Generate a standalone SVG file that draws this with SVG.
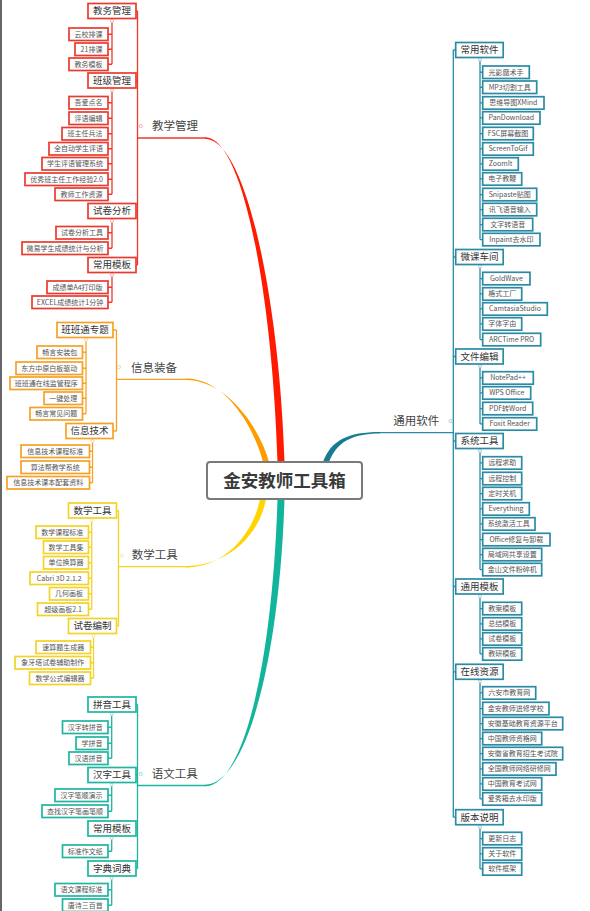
<svg xmlns="http://www.w3.org/2000/svg" width="590" height="911" viewBox="0 0 590 911">
<style>
text{font-family:"Noto Sans CJK SC","Noto Sans",sans-serif}
.lf{font-size:7px;fill:#555;text-anchor:middle}
.st{font-size:9.5px;fill:#333;text-anchor:middle}
.mt{font-size:11.5px;fill:#444}
.rt{font-size:17.5px;font-weight:bold;fill:#3a3a3a;text-anchor:middle}
rect{fill:#fff;stroke-width:1.7}
.R rect{stroke:#ea3a2e}.O rect{stroke:#f6a126}.Y rect{stroke:#f3d325}.T rect{stroke:#1fb5a1}.B rect{stroke:#2b8ba4}
.ln{fill:none;stroke-width:1.3}
.dot{fill:#fff;stroke-width:0.9}
</style>
<rect x="0" y="0" width="590" height="911" style="fill:#fff;stroke:none"/>
<line x1="1" y1="0" x2="1" y2="911" stroke="#333" stroke-width="1.5"/>
<g id="connectors">
<path d="M277.5,462C272.5,300 244,137.2 205,137.2L205,138.8C246,138.8 279.5,300 284.5,462Z" fill="#ff1a00"/>
<path d="M263,462C253,424 224,378.5 186,378.5L186,380.1C226,380.1 259,426 269,462Z" fill="#ff9d00"/>
<path d="M260,499C253,535 224,567.5 186,567.5L186,565.9C226,565.9 259,537 266,499Z" fill="#ffd400"/>
<path d="M277.5,499C272.5,661 244,786.3 205,786.3L205,784.7C246,784.7 279.5,661 284.5,499Z" fill="#12b59c"/>
<path d="M323,462C331,440 348,431.9 380,431.9L380,433.5C352,433.5 337,442 329,462Z" fill="#177c90"/>
<path class="ln" stroke="#ea3a2e" d="M137.5,11V265M136,11H137.5M136,80.5H137.5M136,211H137.5M136,265H137.5M137.5,138H206
M112,21V64.25M108,34.25H112M108,49.25H112M108,64.25H112
M112,90.5V194.25M108,102.75H112M108,118.25H112M108,133.75H112M108,148.75H112M108,163.75H112M108,179.25H112M108,194.25H112
M112,221V248.25M108,232.75H112M108,248.25H112
M112,275V302.25M108,287.25H112M108,302.25H112"/>
<path class="ln" stroke="#f6a126" d="M116.5,330V431M113,330H116.5M113,431H116.5M116.5,379.3H187
M86,340V413.75M82.5,352.25H86M82.5,368.25H86M82.5,383.25H86M82.5,398.25H86M82.5,413.75H86
M92.5,441V482.75M89.5,451.25H92.5M89.5,467.25H92.5M89.5,482.75H92.5"/>
<path class="ln" stroke="#f3d325" d="M118.5,510.5V626M116.5,510.5H118.5M116.5,626H118.5M118.5,566.7H187
M91.7,520V609.25M88.5,532.25H91.7M88.5,547.25H91.7M88.5,562.75H91.7M88.5,578.25H91.7M88.5,593.75H91.7M88.5,609.25H91.7
M93.5,636V678.25M90.5,647.25H93.5M90.5,662.75H93.5M90.5,678.25H93.5"/>
<path class="ln" stroke="#1fb5a1" d="M137.5,704.5V868.5M136,704.5H137.5M136,775H137.5M136,828.5H137.5M136,868.5H137.5M137.5,785.5H206
M111.7,714V758.25M108,727.25H111.7M108,743.25H111.7M108,758.25H111.7
M111.7,784.5V811.25M108,795.25H111.7M108,811.25H111.7
M111.7,838V851.25M108,851.25H111.7
M111.7,878V905.25M108,889.75H111.7M108,905.25H111.7"/>
<path class="ln" stroke="#2b8ba4" d="M453.3,50V817.2M380,432.7H453.3
M453.3,50H455.7M453.3,257H455.7M453.3,356.5H455.7M453.3,441H455.7M453.3,586.5H455.7M453.3,671.8H455.7M453.3,817.2H455.7
M480,59.5V239.55M480,72.25h2.7M480,87.25h2.7M480,102.95h2.7M480,117.95h2.7M480,133.55h2.7M480,148.95h2.7M480,163.95h2.7M480,178.95h2.7M480,194.55h2.7M480,209.55h2.7M480,224.55h2.7M480,239.55h2.7
M480,266.5V339.55M480,278.55h2.7M480,293.95h2.7M480,308.95h2.7M480,323.95h2.7M480,339.55h2.7
M480,366V423.95M480,377.95h2.7M480,392.95h2.7M480,408.55h2.7M480,423.95h2.7
M480,451V569.55M480,462.95h2.7M480,478.55h2.7M480,493.55h2.7M480,508.95h2.7M480,523.95h2.7M480,539.55h2.7M480,554.55h2.7M480,569.55h2.7
M480,596.5V653.95M480,608.55h2.7M480,623.95h2.7M480,638.95h2.7M480,653.95h2.7
M480,681.5V798.95M480,692.95h2.7M480,708.55h2.7M480,723.55h2.7M480,738.55h2.7M480,753.55h2.7M480,768.95h2.7M480,783.95h2.7M480,798.95h2.7
M480,827V868.95M480,838.55h2.7M480,853.95h2.7M480,868.95h2.7"/>
<g stroke="#f2a9a3"><circle class="dot" cx="112" cy="21" r="1.5"/><circle class="dot" cx="112" cy="90.5" r="1.5"/><circle class="dot" cx="112" cy="221" r="1.5"/><circle class="dot" cx="112" cy="275" r="1.5"/><circle class="dot" cx="140.7" cy="126" r="1.6"/></g>
<g stroke="#f8cf96"><circle class="dot" cx="86" cy="340" r="1.5"/><circle class="dot" cx="92.5" cy="441" r="1.5"/><circle class="dot" cx="119" cy="367.3" r="1.6"/></g>
<g stroke="#f6e690"><circle class="dot" cx="91.7" cy="520" r="1.5"/><circle class="dot" cx="93.5" cy="636" r="1.5"/><circle class="dot" cx="121.7" cy="555.7" r="1.6"/></g>
<g stroke="#98dcd2"><circle class="dot" cx="111.7" cy="714" r="1.5"/><circle class="dot" cx="111.7" cy="784.5" r="1.5"/><circle class="dot" cx="111.7" cy="838" r="1.5"/><circle class="dot" cx="111.7" cy="878" r="1.5"/><circle class="dot" cx="140.7" cy="774" r="1.6"/></g>
<g stroke="#9cc8d4"><circle class="dot" cx="480" cy="59.5" r="1.5"/><circle class="dot" cx="480" cy="266.5" r="1.5"/><circle class="dot" cx="480" cy="366" r="1.5"/><circle class="dot" cx="480" cy="451" r="1.5"/><circle class="dot" cx="480" cy="596.5" r="1.5"/><circle class="dot" cx="480" cy="681.5" r="1.5"/><circle class="dot" cx="480" cy="827" r="1.5"/><circle class="dot" cx="450.7" cy="421" r="1.6"/></g>
</g>
<g id="root"><rect x="207" y="462" width="155" height="37" rx="3" style="stroke:#7a7a7a;stroke-width:2"/><text class="rt" x="284.5" y="487">金安教师工具箱</text></g>
<g id="m-jxgl"><text class="mt" x="152" y="130">教学管理</text></g>
<g id="m-xxzb"><text class="mt" x="131" y="371.5">信息装备</text></g>
<g id="m-sxgj"><text class="mt" x="131.7" y="559">数学工具</text></g>
<g id="m-ywgj"><text class="mt" x="151.7" y="778">语文工具</text></g>
<g id="m-tyrj"><text class="mt" x="393.3" y="425">通用软件</text></g>
<g class="R">
<g id="s-jwgl"><rect x="88" y="3.5" width="48" height="15"/><text class="st" x="112" y="14.3">教务管理</text></g>
<g id="l-r1"><rect x="69" y="28" width="39" height="12.5"/><text class="lf" x="88.5" y="36.75">云校排课</text></g>
<g id="l-r2"><rect x="75" y="43" width="33" height="12.5"/><text class="lf" x="91.5" y="51.75">21排课</text></g>
<g id="l-r3"><rect x="69" y="58" width="39" height="12.5"/><text class="lf" x="88.5" y="66.75">教务模板</text></g>
<g id="s-bjgl"><rect x="88" y="73" width="48" height="15"/><text class="st" x="112" y="83.8">班级管理</text></g>
<g id="l-r4"><rect x="69" y="96.5" width="39" height="12.5"/><text class="lf" x="88.5" y="105.25">吾爱点名</text></g>
<g id="l-r5"><rect x="69" y="112" width="39" height="12.5"/><text class="lf" x="88.5" y="120.75">评语编辑</text></g>
<g id="l-r6"><rect x="62" y="127.5" width="46" height="12.5"/><text class="lf" x="85" y="136.25">班主任兵法</text></g>
<g id="l-r7"><rect x="49" y="142.5" width="59" height="12.5"/><text class="lf" x="78.5" y="151.25">全自动学生评语</text></g>
<g id="l-r8"><rect x="42" y="157.5" width="66" height="12.5"/><text class="lf" x="75" y="166.25">学生评语管理系统</text></g>
<g id="l-r9"><rect x="25" y="173" width="83" height="12.5"/><text class="lf" x="66.5" y="181.75">优秀班主任工作经验2.0</text></g>
<g id="l-r10"><rect x="55" y="188" width="53" height="12.5"/><text class="lf" x="81.5" y="196.75">教师工作资源</text></g>
<g id="s-sjfx"><rect x="88" y="203.5" width="48" height="15"/><text class="st" x="112" y="214.3">试卷分析</text></g>
<g id="l-r11"><rect x="56" y="226.5" width="52" height="12.5"/><text class="lf" x="82" y="235.25">试卷分析工具</text></g>
<g id="l-r12"><rect x="22" y="242" width="86" height="12.5"/><text class="lf" x="65" y="250.75">微易学生成绩统计与分析</text></g>
<g id="s-cymb1"><rect x="88" y="257.5" width="48" height="15"/><text class="st" x="112" y="268.3">常用模板</text></g>
<g id="l-r13"><rect x="47" y="281" width="61" height="12.5"/><text class="lf" x="77.5" y="289.75">成绩单A4打印版</text></g>
<g id="l-r14"><rect x="32" y="296" width="76" height="12.5"/><text class="lf" x="70" y="304.75">EXCEL成绩统计1分钟</text></g>
</g>
<g class="O">
<g id="s-bbt"><rect x="57" y="322.5" width="56" height="15"/><text class="st" x="85" y="333.3">班班通专题</text></g>
<g id="l-o1"><rect x="37" y="346" width="45.5" height="12.5"/><text class="lf" x="59.75" y="354.75">畅言安装包</text></g>
<g id="l-o2"><rect x="16" y="362" width="66.5" height="12.5"/><text class="lf" x="49.25" y="370.75">东方中原白板驱动</text></g>
<g id="l-o3"><rect x="10" y="377" width="72.5" height="12.5"/><text class="lf" x="46.25" y="385.75">班班通在线监管程序</text></g>
<g id="l-o4"><rect x="44" y="392" width="38.5" height="12.5"/><text class="lf" x="63.25" y="400.75">一键处理</text></g>
<g id="l-o5"><rect x="30" y="407.5" width="52.5" height="12.5"/><text class="lf" x="56.25" y="416.25">畅言常见问题</text></g>
<g id="s-xxjs"><rect x="66" y="423.5" width="47" height="15"/><text class="st" x="89.5" y="434.3">信息技术</text></g>
<g id="l-o6"><rect x="21" y="445" width="68.5" height="12.5"/><text class="lf" x="55.25" y="453.75">信息技术课程标准</text></g>
<g id="l-o7"><rect x="21" y="461" width="68.5" height="12.5"/><text class="lf" x="55.25" y="469.75">算法帮教学系统</text></g>
<g id="l-o8"><rect x="7" y="476.5" width="82.5" height="12.5"/><text class="lf" x="48.25" y="485.25">信息技术课本配套资料</text></g>
</g>
<g class="Y">
<g id="s-sxgj"><rect x="68.5" y="503" width="48" height="15"/><text class="st" x="92.5" y="513.8">数学工具</text></g>
<g id="l-y1"><rect x="36" y="526" width="52.5" height="12.5"/><text class="lf" x="62.25" y="534.75">数学课程标准</text></g>
<g id="l-y2"><rect x="43.5" y="541" width="45" height="12.5"/><text class="lf" x="66" y="549.75">数学工具集</text></g>
<g id="l-y3"><rect x="43.5" y="556.5" width="45" height="12.5"/><text class="lf" x="66" y="565.25">单位换算器</text></g>
<g id="l-y4"><rect x="30" y="572" width="58.5" height="12.5"/><text class="lf" x="59.25" y="580.75">Cabri 3D 2.1.2</text></g>
<g id="l-y5"><rect x="49.5" y="587.5" width="39" height="12.5"/><text class="lf" x="69" y="596.25">几何画板</text></g>
<g id="l-y6"><rect x="37.5" y="603" width="51" height="12.5"/><text class="lf" x="63" y="611.75">超级画板2.1</text></g>
<g id="s-sjbz"><rect x="68.5" y="618.5" width="48" height="15"/><text class="st" x="92.5" y="629.3">试卷编制</text></g>
<g id="l-y7"><rect x="36" y="641" width="54.5" height="12.5"/><text class="lf" x="63.25" y="649.75">速算题生成器</text></g>
<g id="l-y8"><rect x="15" y="656.5" width="75.5" height="12.5"/><text class="lf" x="52.75" y="665.25">象牙塔试卷辅助制作</text></g>
<g id="l-y9"><rect x="29.5" y="672" width="61" height="12.5"/><text class="lf" x="60" y="680.75">数学公式编辑器</text></g>
</g>
<g class="T">
<g id="s-pygj"><rect x="88" y="697" width="48" height="15"/><text class="st" x="112" y="707.8">拼音工具</text></g>
<g id="l-t1"><rect x="62.5" y="721" width="45.5" height="12.5"/><text class="lf" x="85.25" y="729.75">汉字转拼音</text></g>
<g id="l-t2"><rect x="76" y="737" width="32" height="12.5"/><text class="lf" x="92" y="745.75">学拼音</text></g>
<g id="l-t3"><rect x="69" y="752" width="39" height="12.5"/><text class="lf" x="88.5" y="760.75">汉语拼音</text></g>
<g id="s-hzgj"><rect x="88" y="767.5" width="48" height="15"/><text class="st" x="112" y="778.3">汉字工具</text></g>
<g id="l-t4"><rect x="55" y="789" width="53" height="12.5"/><text class="lf" x="81.5" y="797.75">汉字笔顺演示</text></g>
<g id="l-t5"><rect x="42" y="805" width="66" height="12.5"/><text class="lf" x="75" y="813.75">查找汉字笔画笔顺</text></g>
<g id="s-cymb2"><rect x="88" y="821" width="48" height="15"/><text class="st" x="112" y="831.8">常用模板</text></g>
<g id="l-t6"><rect x="62.5" y="845" width="45.5" height="12.5"/><text class="lf" x="85.25" y="853.75">标准作文纸</text></g>
<g id="s-zdcd"><rect x="88" y="861" width="48" height="15"/><text class="st" x="112" y="871.8">字典词典</text></g>
<g id="l-t7"><rect x="55" y="883.5" width="53" height="12.5"/><text class="lf" x="81.5" y="892.25">语文课程标准</text></g>
<g id="l-t8"><rect x="62.5" y="899" width="45.5" height="12.5"/><text class="lf" x="85.25" y="907.75">唐诗三百首</text></g>
</g>
<g class="B">
<g id="s-cyrj"><rect x="455.7" y="42.5" width="47.5" height="15"/><text class="st" x="479.45" y="53.3">常用软件</text></g>
<g id="l-b1"><rect x="482.7" y="66" width="46.6" height="12.5"/><text class="lf" x="506" y="74.75">光影魔术手</text></g>
<g id="l-b2"><rect x="482.7" y="81" width="54" height="12.5"/><text class="lf" x="509.7" y="89.75">MP3切割工具</text></g>
<g id="l-b3"><rect x="482.7" y="96.7" width="61.3" height="12.5"/><text class="lf" x="513.35" y="105.45">思维导图XMind</text></g>
<g id="l-b4"><rect x="482.7" y="111.7" width="57.3" height="12.5"/><text class="lf" x="511.35" y="120.45">PanDownload</text></g>
<g id="l-b5"><rect x="482.7" y="127.3" width="50.6" height="12.5"/><text class="lf" x="508" y="136.05">FSC屏幕截图</text></g>
<g id="l-b6"><rect x="482.7" y="142.7" width="50.6" height="12.5"/><text class="lf" x="508" y="151.45">ScreenToGif</text></g>
<g id="l-b7"><rect x="482.7" y="157.7" width="35.6" height="12.5"/><text class="lf" x="500.5" y="166.45">ZoomIt</text></g>
<g id="l-b8"><rect x="482.7" y="172.7" width="39" height="12.5"/><text class="lf" x="502.2" y="181.45">电子教鞭</text></g>
<g id="l-b9"><rect x="482.7" y="188.3" width="54" height="12.5"/><text class="lf" x="509.7" y="197.05">Snipaste贴图</text></g>
<g id="l-b10"><rect x="482.7" y="203.3" width="54" height="12.5"/><text class="lf" x="509.7" y="212.05">讯飞语音输入</text></g>
<g id="l-b11"><rect x="482.7" y="218.3" width="50" height="12.5"/><text class="lf" x="507.7" y="227.05">文字转语音</text></g>
<g id="l-b12"><rect x="482.7" y="233.3" width="57.3" height="12.5"/><text class="lf" x="511.35" y="242.05">Inpaint去水印</text></g>
<g id="s-wkcj"><rect x="455.7" y="249.5" width="47.5" height="15"/><text class="st" x="479.45" y="260.3">微课车间</text></g>
<g id="l-b13"><rect x="482.7" y="272.3" width="47.3" height="12.5"/><text class="lf" x="506.35" y="281.05">GoldWave</text></g>
<g id="l-b14"><rect x="482.7" y="287.7" width="39" height="12.5"/><text class="lf" x="502.2" y="296.45">格式工厂</text></g>
<g id="l-b15"><rect x="482.7" y="302.7" width="64.6" height="12.5"/><text class="lf" x="515" y="311.45">CamtasiaStudio</text></g>
<g id="l-b16"><rect x="482.7" y="317.7" width="39" height="12.5"/><text class="lf" x="502.2" y="326.45">字体字由</text></g>
<g id="l-b17"><rect x="482.7" y="333.3" width="58" height="12.5"/><text class="lf" x="511.7" y="342.05">ARCTime PRO</text></g>
<g id="s-wjbj"><rect x="455.7" y="349" width="47.5" height="15"/><text class="st" x="479.45" y="359.8">文件编辑</text></g>
<g id="l-b18"><rect x="482.7" y="371.7" width="50.6" height="12.5"/><text class="lf" x="508" y="380.45">NotePad++</text></g>
<g id="l-b19"><rect x="482.7" y="386.7" width="48" height="12.5"/><text class="lf" x="506.7" y="395.45">WPS Office</text></g>
<g id="l-b20"><rect x="482.7" y="402.3" width="50" height="12.5"/><text class="lf" x="507.7" y="411.05">PDF转Word</text></g>
<g id="l-b21"><rect x="482.7" y="417.7" width="54" height="12.5"/><text class="lf" x="509.7" y="426.45">Foxit Reader</text></g>
<g id="s-xtgj"><rect x="455.7" y="433.5" width="47.5" height="15"/><text class="st" x="479.45" y="444.3">系统工具</text></g>
<g id="l-b22"><rect x="482.7" y="456.7" width="39" height="12.5"/><text class="lf" x="502.2" y="465.45">远程求助</text></g>
<g id="l-b23"><rect x="482.7" y="472.3" width="39" height="12.5"/><text class="lf" x="502.2" y="481.05">远程控制</text></g>
<g id="l-b24"><rect x="482.7" y="487.3" width="39" height="12.5"/><text class="lf" x="502.2" y="496.05">定时关机</text></g>
<g id="l-b25"><rect x="482.7" y="502.7" width="46.6" height="12.5"/><text class="lf" x="506" y="511.45">Everything</text></g>
<g id="l-b26"><rect x="482.7" y="517.7" width="52.3" height="12.5"/><text class="lf" x="508.85" y="526.45">系统激活工具</text></g>
<g id="l-b27"><rect x="482.7" y="533.3" width="67.3" height="12.5"/><text class="lf" x="516.35" y="542.05">Office修复与卸载</text></g>
<g id="l-b28"><rect x="482.7" y="548.3" width="59" height="12.5"/><text class="lf" x="512.2" y="557.05">局域网共享设置</text></g>
<g id="l-b29"><rect x="482.7" y="563.3" width="59" height="12.5"/><text class="lf" x="512.2" y="572.05">金山文件粉碎机</text></g>
<g id="s-tymb"><rect x="455.7" y="579" width="47.5" height="15"/><text class="st" x="479.45" y="589.8">通用模板</text></g>
<g id="l-b30"><rect x="482.7" y="602.3" width="39" height="12.5"/><text class="lf" x="502.2" y="611.05">教案模板</text></g>
<g id="l-b31"><rect x="482.7" y="617.7" width="39" height="12.5"/><text class="lf" x="502.2" y="626.45">总结模板</text></g>
<g id="l-b32"><rect x="482.7" y="632.7" width="39" height="12.5"/><text class="lf" x="502.2" y="641.45">试卷模板</text></g>
<g id="l-b33"><rect x="482.7" y="647.7" width="39" height="12.5"/><text class="lf" x="502.2" y="656.45">教研模板</text></g>
<g id="s-zxzy"><rect x="455.7" y="664.3" width="47.5" height="15"/><text class="st" x="479.45" y="675.1">在线资源</text></g>
<g id="l-b34"><rect x="482.7" y="686.7" width="53" height="12.5"/><text class="lf" x="509.2" y="695.45">六安市教育网</text></g>
<g id="l-b35"><rect x="482.7" y="702.3" width="66.3" height="12.5"/><text class="lf" x="515.85" y="711.05">金安教师进修学校</text></g>
<g id="l-b36"><rect x="482.7" y="717.3" width="80" height="12.5"/><text class="lf" x="522.7" y="726.05">安徽基础教育资源平台</text></g>
<g id="l-b37"><rect x="482.7" y="732.3" width="59" height="12.5"/><text class="lf" x="512.2" y="741.05">中国教师资格网</text></g>
<g id="l-b38"><rect x="482.7" y="747.3" width="80" height="12.5"/><text class="lf" x="522.7" y="756.05">安徽省教育招生考试院</text></g>
<g id="l-b39"><rect x="482.7" y="762.7" width="73.3" height="12.5"/><text class="lf" x="519.35" y="771.45">全国教师网络研修网</text></g>
<g id="l-b40"><rect x="482.7" y="777.7" width="59" height="12.5"/><text class="lf" x="512.2" y="786.45">中国教育考试网</text></g>
<g id="l-b41"><rect x="482.7" y="792.7" width="59" height="12.5"/><text class="lf" x="512.2" y="801.45">爱秀箱去水印版</text></g>
<g id="s-bbsm"><rect x="455.7" y="809.7" width="47.5" height="15"/><text class="st" x="479.45" y="820.5">版本说明</text></g>
<g id="l-b42"><rect x="482.7" y="832.3" width="39" height="12.5"/><text class="lf" x="502.2" y="841.05">更新日志</text></g>
<g id="l-b43"><rect x="482.7" y="847.7" width="39" height="12.5"/><text class="lf" x="502.2" y="856.45">关于软件</text></g>
<g id="l-b44"><rect x="482.7" y="862.7" width="39" height="12.5"/><text class="lf" x="502.2" y="871.45">软件框架</text></g>
</g>
</svg>
